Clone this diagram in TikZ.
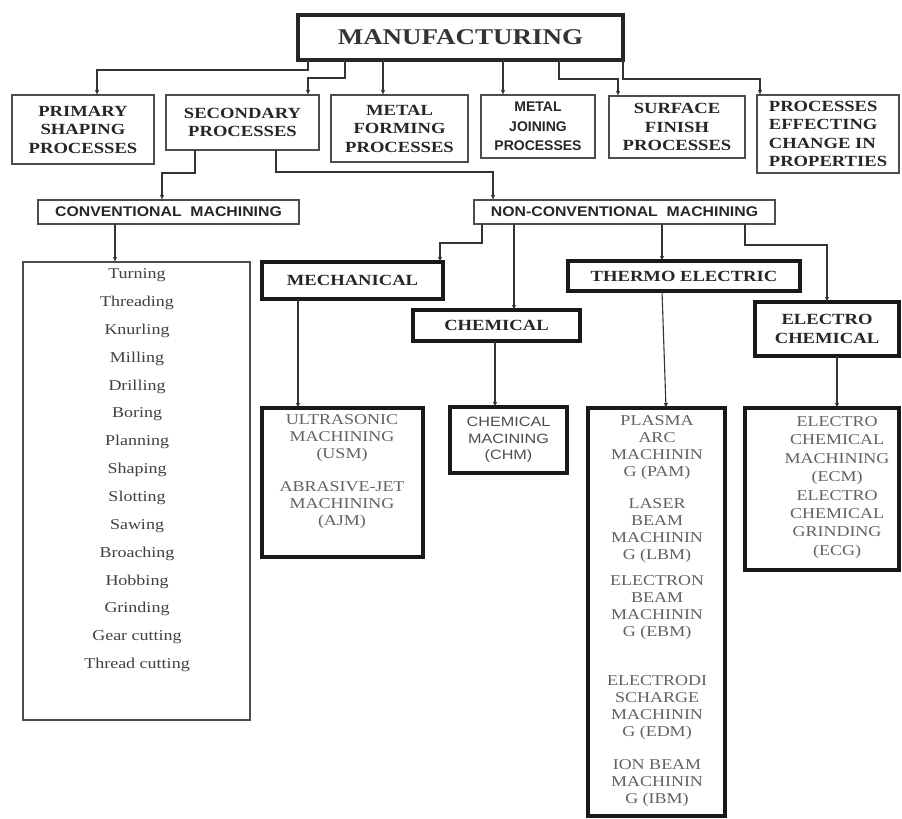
\documentclass[tikz,border=0pt]{standalone}
\usepackage{fontspec}
\usetikzlibrary{arrows.meta,calc}
\newfontfamily\fSerif[FakeStretch=1.2]{Liberation Serif}
\newfontfamily\fSans[FakeStretch=1.2]{Liberation Sans}
\newfontfamily\fSansM[FakeStretch=1.13]{Liberation Sans}
\newfontfamily\fSansN{Liberation Sans}
\begin{document}
\begin{tikzpicture}[x=1pt,y=-1pt,
  bx/.style 2 args={minimum width=#1pt, minimum height=#2pt},
  base/.style={inner sep=0pt, outer sep=0pt, anchor=north west, align=center},
  mainbox/.style={base, draw=black!85, line width=4pt, text=black!80,
    font=\fontsize{22.5}{24}\selectfont\fSerif\bfseries},
  thinbox/.style={base, draw=black!70, line width=1.4pt},
  convbox/.style={base, draw=black!70, line width=1.1pt, text=black!85,
    font=\fontsize{14}{15}\selectfont\fSansM\bfseries},
  thickbox/.style={base, draw=black!90, line width=3.6pt},
  leafbox/.style={base, draw=black!90, line width=4pt},
  serifB/.style={text=black!85, font=\fontsize{15.5}{18.5}\selectfont\fSerif\bfseries},
  sansB/.style={text=black!85, font=\fontsize{14}{19.5}\selectfont\fSansN\bfseries},
  leaftxt/.style={inner sep=0pt, align=center, text=black!62,
    font=\fontsize{15}{17}\selectfont\fSerif},
  listtxt/.style={inner sep=0pt, text=black!75, font=\fontsize{15}{17}\selectfont\fSerif},
  arr/.style={draw=black!80, line width=1.1pt, -{Latex[length=5pt,width=4.5pt]}}
]
\useasboundingbox (0,0) rectangle (902,819);

% top
\node[mainbox, bx={325}{45}] (manu) at (298,15) {MANUFACTURING};

% second row
\node[thinbox, serifB, bx={142}{69}] (prim) at (12,95) {PRIMARY\\SHAPING\\PROCESSES};
\node[thinbox, serifB, bx={153}{55}] (sec) at (166,95) {SECONDARY\\PROCESSES};
\node[thinbox, serifB, bx={137}{67}] (form) at (331,95) {METAL\\FORMING\\PROCESSES};
\node[thinbox, sansB, bx={114}{63}] (join) at (481,95) {METAL\\JOINING\\PROCESSES};
\node[thinbox, serifB, bx={136}{62}] (surf) at (609,96) {SURFACE\\FINISH\\PROCESSES};
\node[thinbox, serifB, bx={142}{78}, align=left] (prop) at (757,95) {PROCESSES\\EFFECTING\\CHANGE IN\\PROPERTIES};

% machining
\node[convbox, bx={261}{24}] (conv) at (38,200) {CONVENTIONAL\ \ MACHINING};
\node[convbox, bx={301}{24}] (nonc) at (474,200) {NON-CONVENTIONAL\ \ MACHINING};

% conventional list
\node[thinbox, bx={227}{458}] (list) at (23,262) {};
\foreach \t [count=\i] in {Turning,Threading,Knurling,Milling,Drilling,Boring,Planning,Shaping,Slotting,Sawing,Broaching,Hobbing,Grinding,Gear cutting,Thread cutting}
  \node[listtxt] (li\i) at (137,{275+27.86*(\i-1)}) {\t};

% non-conventional categories
\node[thickbox, serifB, bx={181}{37}] (mech) at (262,262) {MECHANICAL};
\node[thickbox, serifB, bx={167}{31}] (chem) at (413,310) {CHEMICAL};
\node[thickbox, serifB, bx={232}{30}] (therm) at (568,261) {THERMO ELECTRIC};
\node[thickbox, serifB, bx={144}{54}] (elch) at (755,302) {ELECTRO\\CHEMICAL};

% leaves
\node[leafbox, bx={161}{149}] (usm) at (262,408) {};
\node[leaftxt] (usmA) at (342,438.5) {ULTRASONIC\\MACHINING\\(USM)};
\node[leaftxt] (usmB) at (342,505) {ABRASIVE-JET\\MACHINING\\(AJM)};

\node[leafbox, bx={117}{66}, text=black!70, font=\fontsize{13.5}{16.5}\selectfont\fSans] (chm) at (450,407) {CHEMICAL\\MACINING\\(CHM)};

\node[leafbox, bx={137}{408}] (pam) at (588,408) {};
\node[leaftxt] (pamA) at (657,447.5) {PLASMA\\ARC\\MACHININ\\G (PAM)};
\node[leaftxt] (pamB) at (657,530.5) {LASER\\BEAM\\MACHININ\\G (LBM)};
\node[leaftxt] (pamC) at (657,608) {ELECTRON\\BEAM\\MACHININ\\G (EBM)};
\node[leaftxt] (pamD) at (657,707.5) {ELECTRODI\\SCHARGE\\MACHININ\\G (EDM)};
\node[leaftxt] (pamE) at (657,783.5) {ION BEAM\\MACHININ\\G (IBM)};

\node[leafbox, bx={154}{162}] (ecm) at (745,408) {};
\node[leaftxt, font=\fontsize{15}{18.4}\selectfont\fSerif] (ecmT) at (837,487.5) {ELECTRO\\CHEMICAL\\MACHINING\\(ECM)\\ELECTRO\\CHEMICAL\\GRINDING\\(ECG)};

% connectors from MANUFACTURING
\draw[arr] ($(manu.south west)+(10,0)$) -- ++(0,10) -| ($(prim.north west)+(85,0)$);
\draw[arr] ($(manu.south west)+(47,0)$) -- ++(0,18) -| ($(sec.north west)+(142,0)$);
\draw[arr] ($(manu.south west)+(85,0)$) -- ($(form.north west)+(52,0)$);
\draw[arr] ($(manu.south west)+(205,0)$) -- ($(join.north west)+(22,0)$);
\draw[arr] ($(manu.south west)+(261,0)$) -- ++(0,19) -| ($(surf.north west)+(9,0)$);
\draw[arr] (manu.south east) -- ++(0,19) -| ($(prop.north west)+(3,0)$);

% from SECONDARY
\draw[arr] ($(sec.south west)+(29,0)$) -- ++(0,23) -| ($(conv.north west)+(124,0)$);
\draw[arr] ($(sec.south west)+(110,0)$) -- ++(0,22) -| ($(nonc.north west)+(19,0)$);

% conventional
\draw[arr] ($(conv.south west)+(77,0)$) -- ($(list.north west)+(92,0)$);

% non-conventional
\draw[arr] ($(nonc.south west)+(8,0)$) -- ++(0,19) -| ($(mech.north east)+(-3,0)$);
\draw[arr] ($(nonc.south west)+(40,0)$) -- ($(chem.north west)+(101,0)$);
\draw[arr] ($(nonc.south west)+(188,0)$) -- ($(therm.north west)+(94,0)$);
\draw[arr] ($(nonc.south west)+(271,0)$) -- ++(0,21) -| ($(elch.north west)+(72,0)$);

% to leaves
\draw[arr] ($(mech.south west)+(36,0)$) -- ($(usm.north west)+(36,0)$);
\draw[arr] ($(chem.south west)+(82,0)$) -- ($(chm.north west)+(45,0)$);
\draw[arr] ($(therm.south west)+(94,0)$) -- ($(pam.north west)+(78,0)$);
\draw[arr] ($(elch.south west)+(82,0)$) -- ($(ecm.north west)+(92,0)$);
\end{tikzpicture}
\end{document}
